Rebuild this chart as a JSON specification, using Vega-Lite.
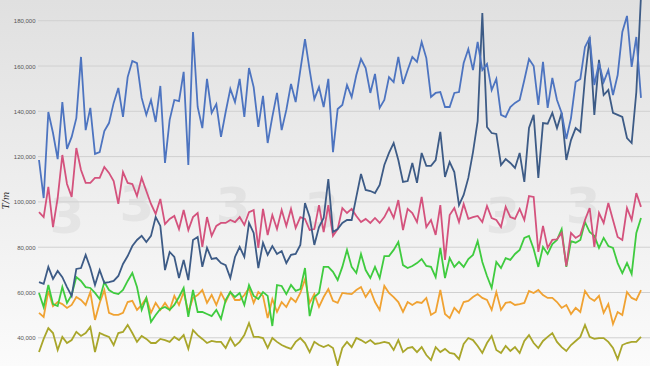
{
  "$schema": "https://vega.github.io/schema/vega-lite/v6.json",
  "width": 650,
  "height": 366,
  "autosize": "none",
  "padding": 0,
  "background": "#eeeeee",
  "config": {"view": {"stroke": null}},
  "layer": [
    {
      "data": {"values": [{}]},
      "mark": {"type": "rect", "fill": {"gradient": "linear", "x1": 0, "y1": 0, "x2": 0, "y2": 1, "stops": [{"offset": 0, "color": "#e0e0e0"}, {"offset": 1, "color": "#fbfbfb"}]}},
      "encoding": {}
    },
    {
      "data": {"values": [{"x": 6, "y": 93000, "m": "3"}, {"x": 21, "y": 98000, "m": "3"}, {"x": 41.6, "y": 97500, "m": "3"}, {"x": 60.6, "y": 95000, "m": "3"}, {"x": 99.4, "y": 93000, "m": "3"}, {"x": 116.6, "y": 97500, "m": "3"}]},
      "mark": {"type": "text", "fontSize": 50, "fontWeight": "bold", "font": "DejaVu Sans", "color": "#555555", "opacity": 0.07},
      "encoding": {
        "x": {"field": "x", "type": "quantitative", "scale": {"domain": [-8.357, 130.93], "nice": false, "zero": false}, "axis": null},
        "y": {"field": "y", "type": "quantitative", "scale": {"domain": [27550, 189140], "nice": false, "zero": false},
          "axis": {"values": [40000, 60000, 80000, 100000, 120000, 140000, 160000, 180000], "labelExpr": "format(datum.value, ',')", "orient": "left", "offset": -38, "zindex": 2, "domain": false, "ticks": false, "grid": false, "labelFontSize": 6, "labelColor": "#555555", "labelFont": "Liberation Sans", "labelPadding": 3, "title": "T/m", "titleFontSize": 9, "titleFont": "DejaVu Serif", "titleFontStyle": "italic", "titleFontWeight": "normal", "titleColor": "#333333", "titleX": -28, "titleY": 200}},
        "text": {"field": "m"}
      }
    },
    {
      "data": {"values": [{"g": 40000}, {"g": 60000}, {"g": 80000}, {"g": 100000}, {"g": 120000}, {"g": 140000}, {"g": 160000}, {"g": 180000}]},
      "mark": {"type": "rule", "color": "#d0d0d0", "strokeWidth": 1},
      "encoding": {
        "y": {"field": "g", "type": "quantitative", "scale": {"domain": [27550, 189140], "nice": false, "zero": false},
          "axis": {"values": [40000, 60000, 80000, 100000, 120000, 140000, 160000, 180000], "labelExpr": "format(datum.value, ',')", "orient": "left", "offset": -38, "zindex": 2, "domain": false, "ticks": false, "grid": false, "labelFontSize": 6, "labelColor": "#555555", "labelFont": "Liberation Sans", "labelPadding": 3, "title": "T/m", "titleFontSize": 9, "titleFont": "DejaVu Serif", "titleFontStyle": "italic", "titleFontWeight": "normal", "titleColor": "#333333", "titleX": -28, "titleY": 200}},
        "x": {"datum": -0.214, "type": "quantitative", "scale": {"domain": [-8.357, 130.93], "nice": false, "zero": false}, "axis": null},
        "x2": {"datum": 130.93}
      }
    },
    {
      "data": {"values": [
        {"t":0,"A":118500,"B":64600,"C":95500,"D":59800,"E":51000,"F":33700},
        {"t":1,"A":101700,"B":63800,"C":93300,"D":53600,"E":49200,"F":39500},
        {"t":2,"A":139700,"B":71300,"C":106600,"D":63300,"E":60700,"F":44300},
        {"t":3,"A":130400,"B":66000,"C":88900,"D":54900,"E":54000,"F":42100},
        {"t":4,"A":118900,"B":69500,"C":101700,"D":54000,"E":55800,"F":34600},
        {"t":5,"A":144100,"B":66800,"C":120700,"D":62400,"E":54900,"F":40400},
        {"t":6,"A":123400,"B":62400,"C":107900,"D":55400,"E":53200,"F":37700},
        {"t":7,"A":128700,"B":58500,"C":102200,"D":58900,"E":54500,"F":39000},
        {"t":8,"A":137000,"B":70400,"C":123800,"D":66800,"E":58000,"F":42600},
        {"t":9,"A":164000,"B":70800,"C":114100,"D":65100,"E":56700,"F":40800},
        {"t":10,"A":131700,"B":76600,"C":108400,"D":62400,"E":54500,"F":42100},
        {"t":11,"A":141500,"B":70800,"C":108400,"D":62000,"E":60200,"F":44800},
        {"t":12,"A":121200,"B":63300,"C":110600,"D":59800,"E":47900,"F":33700},
        {"t":13,"A":122000,"B":69900,"C":110600,"D":57100,"E":55400,"F":42100},
        {"t":14,"A":131300,"B":64200,"C":115400,"D":64600,"E":61100,"F":41200},
        {"t":15,"A":134800,"B":64600,"C":112800,"D":61100,"E":51000,"F":40400},
        {"t":16,"A":143700,"B":65100,"C":109200,"D":59800,"E":50100,"F":36800},
        {"t":17,"A":150300,"B":67300,"C":99100,"D":59300,"E":50100,"F":42100},
        {"t":18,"A":137500,"B":72600,"C":113200,"D":61100,"E":51000,"F":42600},
        {"t":19,"A":155100,"B":76100,"C":108400,"D":65100,"E":55800,"F":45700},
        {"t":20,"A":162200,"B":80500,"C":107900,"D":68600,"E":56300,"F":42100},
        {"t":21,"A":161300,"B":83200,"C":102600,"D":62400,"E":52300,"F":38200},
        {"t":22,"A":145900,"B":85000,"C":110600,"D":52300,"E":54500,"F":40800},
        {"t":23,"A":138400,"B":82300,"C":104800,"D":57600,"E":57600,"F":39500},
        {"t":24,"A":145000,"B":85000,"C":99100,"D":47000,"E":51000,"F":37700},
        {"t":25,"A":135300,"B":93300,"C":94700,"D":50100,"E":55400,"F":37700},
        {"t":26,"A":151200,"B":89400,"C":101300,"D":52700,"E":52300,"F":39500},
        {"t":27,"A":117200,"B":69900,"C":90200,"D":53600,"E":55400,"F":39000},
        {"t":28,"A":136200,"B":77900,"C":92500,"D":52300,"E":52300,"F":38200},
        {"t":29,"A":145000,"B":75700,"C":93800,"D":54500,"E":58500,"F":40400},
        {"t":30,"A":144500,"B":66400,"C":88000,"D":58000,"E":54500,"F":39000},
        {"t":31,"A":157400,"B":74400,"C":96400,"D":62000,"E":60200,"F":41200},
        {"t":32,"A":116300,"B":65500,"C":87600,"D":49200,"E":51400,"F":35100},
        {"t":33,"A":175000,"B":83200,"C":93300,"D":61100,"E":57600,"F":43400},
        {"t":34,"A":141900,"B":84500,"C":95100,"D":51400,"E":58900,"F":41200},
        {"t":35,"A":132600,"B":71300,"C":80100,"D":51400,"E":61100,"F":39500},
        {"t":36,"A":154300,"B":79700,"C":93300,"D":50500,"E":55400,"F":37700},
        {"t":37,"A":139300,"B":74800,"C":85000,"D":49600,"E":58900,"F":38600},
        {"t":38,"A":143200,"B":75200,"C":89400,"D":52300,"E":54500,"F":38200},
        {"t":39,"A":128700,"B":73000,"C":90700,"D":48300,"E":59800,"F":38200},
        {"t":40,"A":139700,"B":72100,"C":90700,"D":56700,"E":55800,"F":35500},
        {"t":41,"A":149900,"B":66400,"C":92000,"D":60200,"E":60200,"F":39900},
        {"t":42,"A":144100,"B":75700,"C":91100,"D":58000,"E":56700,"F":36400},
        {"t":43,"A":154300,"B":80100,"C":93300,"D":59800,"E":56700,"F":38200},
        {"t":44,"A":137500,"B":75700,"C":89800,"D":54500,"E":58900,"F":41200},
        {"t":45,"A":159100,"B":90700,"C":95500,"D":63300,"E":62000,"F":46500},
        {"t":46,"A":150700,"B":86300,"C":96400,"D":58500,"E":55400,"F":40400},
        {"t":47,"A":133100,"B":70800,"C":79700,"D":57100,"E":60200,"F":40400},
        {"t":48,"A":146800,"B":81900,"C":96900,"D":60200,"E":58500,"F":39900},
        {"t":49,"A":126000,"B":76600,"C":85400,"D":58500,"E":48700,"F":35500},
        {"t":50,"A":137500,"B":80500,"C":94200,"D":45200,"E":57100,"F":39900},
        {"t":51,"A":148100,"B":77000,"C":88000,"D":63300,"E":51400,"F":38200},
        {"t":52,"A":131700,"B":78300,"C":96400,"D":62900,"E":55800,"F":36800},
        {"t":53,"A":140600,"B":73000,"C":89400,"D":59300,"E":53600,"F":35900},
        {"t":54,"A":152100,"B":76600,"C":96900,"D":63300,"E":57600,"F":35100},
        {"t":55,"A":144100,"B":77000,"C":88500,"D":60700,"E":55800,"F":38200},
        {"t":56,"A":158200,"B":81000,"C":93300,"D":61500,"E":59800,"F":39900},
        {"t":57,"A":171900,"B":99500,"C":92500,"D":70800,"E":65900,"F":37700},
        {"t":58,"A":158200,"B":93300,"C":87600,"D":49600,"E":55400,"F":33700},
        {"t":59,"A":145400,"B":81000,"C":88000,"D":58000,"E":59300,"F":38200},
        {"t":60,"A":150700,"B":88900,"C":98600,"D":59800,"E":53600,"F":36800},
        {"t":61,"A":141900,"B":92900,"C":86700,"D":71300,"E":58000,"F":35900},
        {"t":62,"A":154300,"B":110100,"C":98600,"D":71300,"E":61500,"F":36800},
        {"t":63,"A":122000,"B":86700,"C":85000,"D":69100,"E":56300,"F":35500},
        {"t":64,"A":141000,"B":88000,"C":88000,"D":65500,"E":55400,"F":28000},
        {"t":65,"A":142800,"B":90700,"C":97300,"D":71300,"E":59800,"F":35500},
        {"t":66,"A":151600,"B":92000,"C":95100,"D":78800,"E":59500,"F":38200},
        {"t":67,"A":146300,"B":92000,"C":96900,"D":71300,"E":59300,"F":35900},
        {"t":68,"A":156000,"B":102200,"C":93800,"D":68600,"E":61100,"F":39900},
        {"t":69,"A":163100,"B":112300,"C":91100,"D":77000,"E":62400,"F":39000},
        {"t":70,"A":159100,"B":105300,"C":92500,"D":69900,"E":58000,"F":37700},
        {"t":71,"A":148100,"B":104800,"C":90700,"D":66400,"E":61100,"F":39000},
        {"t":72,"A":156500,"B":103900,"C":92900,"D":71300,"E":55800,"F":37300},
        {"t":73,"A":141500,"B":107500,"C":90700,"D":66400,"E":52300,"F":37700},
        {"t":74,"A":145000,"B":116300,"C":93300,"D":76100,"E":62900,"F":38200},
        {"t":75,"A":155100,"B":121600,"C":97300,"D":76100,"E":59800,"F":37700},
        {"t":76,"A":152900,"B":126000,"C":92900,"D":78800,"E":58000,"F":34600},
        {"t":77,"A":164000,"B":118500,"C":100800,"D":82300,"E":55800,"F":39000},
        {"t":78,"A":152100,"B":108800,"C":87600,"D":72100,"E":51400,"F":33700},
        {"t":79,"A":158200,"B":109200,"C":96900,"D":70800,"E":55800,"F":35500},
        {"t":80,"A":164000,"B":117200,"C":95100,"D":71700,"E":54500,"F":35900},
        {"t":81,"A":161800,"B":108400,"C":91100,"D":73000,"E":55800,"F":33700},
        {"t":82,"A":170600,"B":121600,"C":102200,"D":74800,"E":55400,"F":35900},
        {"t":83,"A":163500,"B":115900,"C":88900,"D":71700,"E":57600,"F":32400},
        {"t":84,"A":146300,"B":115900,"C":92000,"D":71300,"E":50100,"F":30200},
        {"t":85,"A":148100,"B":118500,"C":85400,"D":66800,"E":51400,"F":35900},
        {"t":86,"A":148500,"B":130900,"C":98600,"D":79700,"E":61100,"F":33700},
        {"t":87,"A":141900,"B":111000,"C":74400,"D":66400,"E":50500,"F":35100},
        {"t":88,"A":141900,"B":117600,"C":94200,"D":75200,"E":48700,"F":33300},
        {"t":89,"A":148100,"B":113200,"C":97300,"D":71300,"E":53200,"F":32900},
        {"t":90,"A":148500,"B":98600,"C":91100,"D":73500,"E":51000,"F":30600},
        {"t":91,"A":161300,"B":103100,"C":99100,"D":71300,"E":55800,"F":37300},
        {"t":92,"A":167500,"B":110600,"C":92500,"D":74800,"E":56300,"F":39900},
        {"t":93,"A":158200,"B":122000,"C":93300,"D":76600,"E":58000,"F":39000},
        {"t":94,"A":170600,"B":135700,"C":93800,"D":82700,"E":59300,"F":36400},
        {"t":95,"A":158200,"B":183400,"C":91100,"D":73500,"E":57600,"F":33300},
        {"t":96,"A":160900,"B":133100,"C":98200,"D":67300,"E":56700,"F":37700},
        {"t":97,"A":149400,"B":130400,"C":92900,"D":62000,"E":52300,"F":40800},
        {"t":98,"A":154300,"B":130000,"C":92000,"D":73500,"E":60200,"F":34600},
        {"t":99,"A":138400,"B":116300,"C":88900,"D":70800,"E":52300,"F":33300},
        {"t":100,"A":137500,"B":118900,"C":97800,"D":75200,"E":55400,"F":36400},
        {"t":101,"A":141900,"B":117200,"C":93300,"D":74400,"E":55800,"F":34200},
        {"t":102,"A":143700,"B":115000,"C":92500,"D":77000,"E":54500,"F":35900},
        {"t":103,"A":145000,"B":121600,"C":96900,"D":78800,"E":54900,"F":33300},
        {"t":104,"A":153800,"B":108800,"C":92000,"D":84100,"E":55400,"F":38600},
        {"t":105,"A":163100,"B":132600,"C":102600,"D":85000,"E":60700,"F":41200},
        {"t":106,"A":160000,"B":138400,"C":102200,"D":79200,"E":59800,"F":37700},
        {"t":107,"A":142800,"B":110600,"C":77900,"D":71300,"E":61100,"F":35500},
        {"t":108,"A":161800,"B":134800,"C":89400,"D":80100,"E":58900,"F":38600},
        {"t":109,"A":141500,"B":134500,"C":79700,"D":77000,"E":57600,"F":40400},
        {"t":110,"A":154700,"B":139300,"C":83200,"D":81400,"E":57600,"F":42100},
        {"t":111,"A":145000,"B":132600,"C":83500,"D":83200,"E":55800,"F":38200},
        {"t":112,"A":139300,"B":139300,"C":86300,"D":88000,"E":53200,"F":35900},
        {"t":113,"A":127800,"B":118500,"C":71700,"D":71300,"E":54500,"F":34200},
        {"t":114,"A":137000,"B":127300,"C":86300,"D":82700,"E":50500,"F":36800},
        {"t":115,"A":152900,"B":132600,"C":84100,"D":82000,"E":53200,"F":38600},
        {"t":116,"A":154300,"B":130900,"C":85400,"D":83200,"E":51400,"F":40400},
        {"t":117,"A":168400,"B":154700,"C":92000,"D":91100,"E":60700,"F":45700},
        {"t":118,"A":172400,"B":172800,"C":97300,"D":86700,"E":57600,"F":40400},
        {"t":119,"A":151600,"B":138400,"C":80100,"D":85000,"E":56300,"F":39500},
        {"t":120,"A":161300,"B":162700,"C":95100,"D":79700,"E":58500,"F":39900},
        {"t":121,"A":152900,"B":147200,"C":90700,"D":84100,"E":51000,"F":39900},
        {"t":122,"A":158200,"B":149400,"C":99500,"D":80500,"E":54900,"F":38200},
        {"t":123,"A":147200,"B":139300,"C":92000,"D":79700,"E":46100,"F":35500},
        {"t":124,"A":156000,"B":138400,"C":84500,"D":73000,"E":51400,"F":30600},
        {"t":125,"A":175000,"B":137500,"C":83200,"D":68600,"E":50100,"F":36800},
        {"t":126,"A":182100,"B":128200,"C":97300,"D":73000,"E":60200,"F":37700},
        {"t":127,"A":159600,"B":126000,"C":92000,"D":68200,"E":57600,"F":38200},
        {"t":128,"A":172800,"B":148500,"C":103900,"D":86300,"E":56700,"F":38200},
        {"t":129,"A":145900,"B":191000,"C":97800,"D":92900,"E":61100,"F":40400}
      ]},
      "transform": [{"fold": ["F", "E", "D", "C", "B", "A"], "as": ["s", "v"]}],
      "mark": {"type": "line", "strokeWidth": 1.8, "clip": true},
      "encoding": {
        "x": {"field": "t", "type": "quantitative", "scale": {"domain": [-8.357, 130.93], "nice": false, "zero": false}, "axis": null},
        "y": {"field": "v", "type": "quantitative", "scale": {"domain": [27550, 189140], "nice": false, "zero": false},
          "axis": {"values": [40000, 60000, 80000, 100000, 120000, 140000, 160000, 180000], "labelExpr": "format(datum.value, ',')", "orient": "left", "offset": -38, "zindex": 2, "domain": false, "ticks": false, "grid": false, "labelFontSize": 6, "labelColor": "#555555", "labelFont": "Liberation Sans", "labelPadding": 3, "title": "T/m", "titleFontSize": 9, "titleFont": "DejaVu Serif", "titleFontStyle": "italic", "titleFontWeight": "normal", "titleColor": "#333333", "titleX": -28, "titleY": 200}},
        "color": {"field": "s", "type": "nominal", "scale": {"domain": ["A", "B", "C", "D", "E", "F"], "range": ["#4d74c0", "#3d5b86", "#d4527d", "#3fcb3f", "#f0a232", "#a9a62b"]}, "legend": null},
        "order": {"field": "s", "type": "nominal"}
      }
    }
  ]
}
